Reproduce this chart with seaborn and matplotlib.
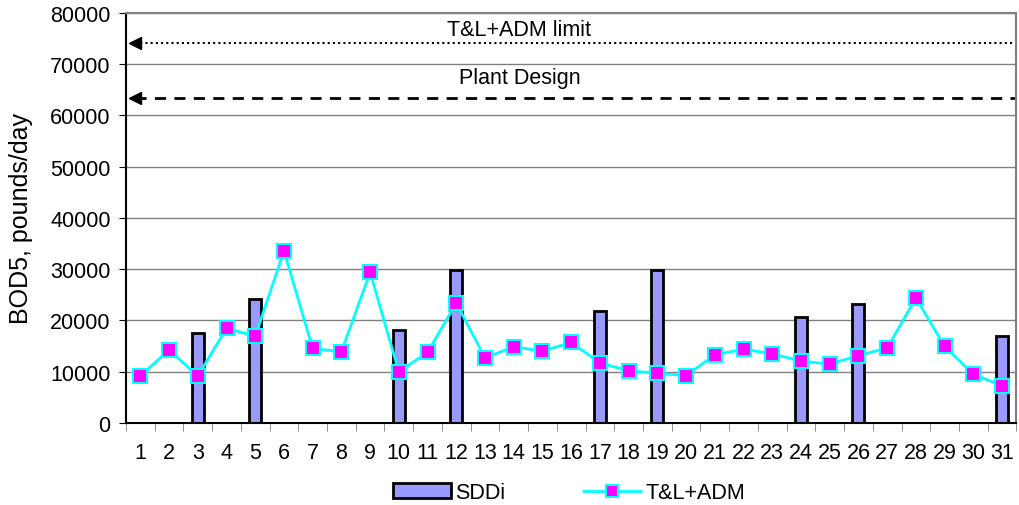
import numpy as np
import pandas as pd
import matplotlib.pyplot as plt
import matplotlib.patches as mpatches
from matplotlib.lines import Line2D
import seaborn as sns

# chart data
days = [str(d) for d in range(1, 32)]
sddi = [np.nan, np.nan, 17500, np.nan, 24200, np.nan, np.nan, np.nan, np.nan, 18150,
        np.nan, 29900, np.nan, np.nan, np.nan, np.nan, 21800, np.nan, 29800, np.nan,
        np.nan, np.nan, np.nan, 20750, np.nan, 23200, np.nan, np.nan, np.nan, np.nan, 16900]
tl_adm = [9200, 14250, 9150, 18500, 16900, 33600, 14550, 13900, 29400, 10000,
          13800, 23400, 12700, 14900, 14000, 15750, 11700, 10200, 9700, 9250,
          13300, 14400, 13500, 12100, 11500, 13150, 14650, 24400, 14950, 9500, 7300]
limit_value = 74200
design_value = 63500
limit_label = "T&L+ADM limit"
design_label = "Plant Design"

df = pd.DataFrame({"day": days, "SDDi": sddi, "TL": tl_adm})
df["pos"] = np.arange(len(days))

sns.set_style("white")
plt.rcParams['font.family'] = ['Liberation Sans', 'DejaVu Sans']
plt.rcParams.update({"text.color": "black", "axes.labelcolor": "black",
                     "xtick.color": "black", "ytick.color": "black"})
fs = 15.5

fig = plt.figure(figsize=(10.2, 5.06), dpi=100)
ax = fig.add_axes([0.1235, 0.162, 0.873, 0.8105])

# bars
sns.barplot(data=df, x="day", y="SDDi", order=days, ax=ax, color="#9999FF",
            edgecolor="black", linewidth=2, width=0.42, saturation=1, errorbar=None)

# line
sns.lineplot(data=df, x="pos", y="TL", ax=ax, color="#00FFFF", linewidth=2,
             marker="s", markersize=10, markerfacecolor="#FF00FF",
             markeredgecolor="#00FFFF", markeredgewidth=1.5, zorder=5)

# reference lines with arrows
x_tip, x_end = -0.19, 30.87
ax.plot([x_tip, x_end], [limit_value, limit_value], color="black", ls=(0, (1, 1.5)), lw=1.5)
ax.plot(x_tip, limit_value, marker="<", color="black", ms=9)
ax.plot([x_tip, x_end], [design_value, design_value], color="black", ls=(0, (4, 3)), lw=2)
ax.plot(x_tip, design_value, marker="<", color="black", ms=9)
ax.text(13.2, 76800, limit_label, ha="center", va="center", fontsize=fs)
ax.text(13.2, 67400, design_label, ha="center", va="center", fontsize=fs)

ax.set_xlim(-0.5, 30.5)
ax.set_ylim(0, 80000)
ax.set_yticks(np.arange(0, 80001, 10000))
ax.yaxis.grid(True, color="#808080", lw=1)
ax.set_axisbelow(True)
ax.set_xlabel("")
ax.set_ylabel("BOD5, pounds/day", fontsize=18)
ax.yaxis.set_label_coords(-0.104, 0.5)

ax.tick_params(axis="y", labelsize=fs, left=True, length=5, color="black", pad=6)
ax.tick_params(axis="x", which="major", labelsize=fs, length=0, pad=14)
ax.set_xticks(np.arange(-0.5, 31, 1), minor=True)
ax.tick_params(axis="x", which="minor", bottom=True, length=6, color="#808080")

for s in ["left", "bottom"]:
    ax.spines[s].set_color("black")
    ax.spines[s].set_linewidth(1.5)
for s in ["top", "right"]:
    ax.spines[s].set_color("#808080")
    ax.spines[s].set_linewidth(1.5)

handles = [mpatches.Patch(facecolor="#9999FF", edgecolor="black", linewidth=2, label="SDDi"),
           Line2D([], [], color="#00FFFF", lw=2, marker="s", ms=9, mfc="#FF00FF",
                  mec="#00FFFF", mew=1.5, label="T&L+ADM")]
fig.legend(handles=handles, loc="lower center", bbox_to_anchor=(0.558, -0.035), ncol=2,
           frameon=False, fontsize=fs, handlelength=2.7, columnspacing=3.6,
           handletextpad=0.2)

fig.savefig("out.png", dpi=100)
